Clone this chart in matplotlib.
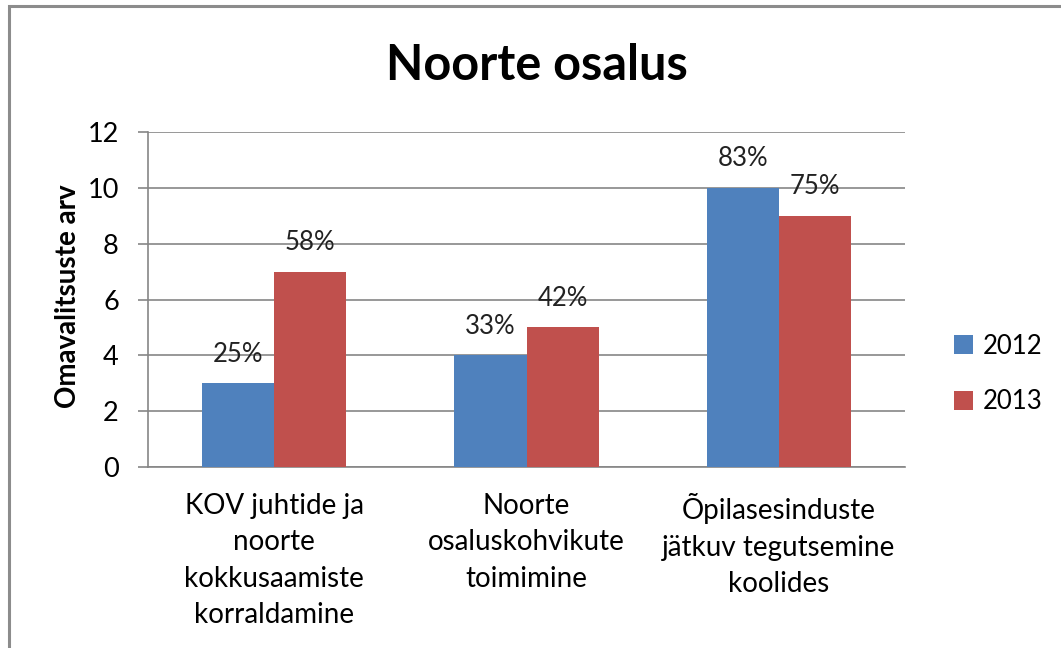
import matplotlib
matplotlib.use("Agg")
import matplotlib.pyplot as plt
import numpy as np
from matplotlib.patches import Rectangle

categories = ["KOV juhtide ja\nnoorte\nkokkusaamiste\nkorraldamine",
              "Noorte\nosaluskohvikute\ntoimimine",
              "Õpilasesinduste\njätkuv tegutsemine\nkoolides"]
series_names = ["2012", "2013"]
values_2012 = [3, 4, 10]
values_2013 = [7, 5, 9]
labels_2012 = ["25%", "33%", "83%"]
labels_2013 = ["58%", "42%", "75%"]
yticks = [0, 2, 4, 6, 8, 10, 12]

blue = "#4F81BD"
red = "#C0504D"
grid_c = "#868686"

plt.rcParams['font.family'] = ['Lato', 'DejaVu Sans']

fig = plt.figure(figsize=(10.61, 6.48), dpi=100)
fig.patches.append(Rectangle((9/1061, -0.1), 1.2, 1 - 6/648 + 0.1, transform=fig.transFigure,
                             fill=False, edgecolor="#8c8c8c", linewidth=2.2, zorder=0))

ax = fig.add_axes([148/1061, 1 - 467/648, (905 - 148)/1061, (467 - 132)/648])
x = np.arange(len(categories))
w = 72/252
b1 = ax.bar(x - w/2, values_2012, w, color=blue, label=series_names[0], zorder=3)
b2 = ax.bar(x + w/2, values_2013, w, color=red, label=series_names[1], zorder=3)

for bars, labs in ((b1, labels_2012), (b2, labels_2013)):
    for rect, lab in zip(bars, labs):
        ax.annotate(lab, (rect.get_x() + rect.get_width()/2, rect.get_height()),
                    xytext=(0, 21), textcoords="offset points", ha="center", va="center",
                    fontsize=18.5, color="#222222")

ax.set_xlim(-0.5, 2.5)
ax.set_ylim(0, 12)
ax.set_yticks(yticks)
ax.set_yticklabels([str(t) for t in yticks], fontsize=19.5)
ax.yaxis.grid(True, color=grid_c, linewidth=1.2, zorder=0)
ax.set_axisbelow(True)
ax.set_xticks(x)
ax.set_xticklabels(categories, fontsize=20, linespacing=1.48)
ax.tick_params(axis="x", length=0, pad=19)
ax.tick_params(axis="y", length=7, width=1.2, color=grid_c, pad=14)
for s in ["top", "right"]:
    ax.spines[s].set_visible(False)
ax.spines["left"].set_color(grid_c)
ax.spines["left"].set_linewidth(1.2)
ax.spines["bottom"].set_color(grid_c)
ax.spines["bottom"].set_linewidth(1.2)

ax.set_ylabel("Omavalitsuste arv", fontsize=20, fontweight="bold")
ax.yaxis.set_label_coords(68/1061, 1 - 296/648, transform=fig.transFigure)
ax.yaxis.label.set_va("center")

fig.text(537/1061, 1 - 65/648, "Noorte osalus", fontsize=35, fontweight="bold",
         ha="center", va="center")

leg = ax.legend(loc="center left", bbox_to_anchor=(931/1061, 1 - 374/648),
                bbox_transform=fig.transFigure, frameon=False, fontsize=18.5,
                handlelength=0.75, handleheight=0.75, handletextpad=0.35, labelspacing=1.2)

fig.savefig("out.png", dpi=100)
